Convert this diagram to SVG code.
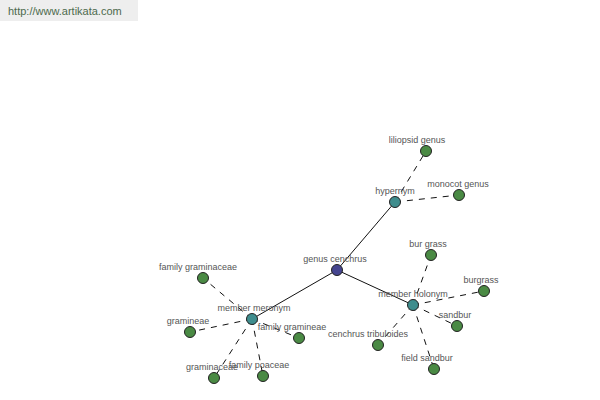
<svg xmlns="http://www.w3.org/2000/svg" width="600" height="400" viewBox="0 0 600 400">
<style>
text{font-family:"Liberation Sans",Arial,sans-serif;font-size:9px;fill:#555;text-anchor:middle}
.n circle{stroke:#222;stroke-width:1}
.leaf circle{fill:#4a8a44}
.hub circle{fill:#3f8d8d}
.root circle{fill:#45458f}
.s{stroke:#111;stroke-width:1;fill:none}
.d{stroke:#111;stroke-width:1;fill:none;stroke-dasharray:6,6}
</style>
<rect x="0" y="0" width="138" height="21" fill="#eeeeee"/>
<text x="8" y="15" style="font-size:11px;fill:#4d6a4d;text-anchor:start">http://www.artikata.com</text>
<g id="connectors">
<line class="s" x1="337" y1="270" x2="395" y2="202"/>
<line class="s" x1="337" y1="270" x2="413" y2="305"/>
<line class="s" x1="337" y1="270" x2="252" y2="319"/>
<line class="d" x1="395" y1="202" x2="426" y2="151"/>
<line class="d" x1="395" y1="202" x2="459" y2="195"/>
<line class="d" x1="413" y1="305" x2="431" y2="255"/>
<line class="d" x1="413" y1="305" x2="484" y2="291"/>
<line class="d" x1="413" y1="305" x2="457" y2="326"/>
<line class="d" x1="413" y1="305" x2="434" y2="369"/>
<line class="d" x1="413" y1="305" x2="378" y2="345"/>
<line class="d" x1="252" y1="319" x2="203" y2="278"/>
<line class="d" x1="252" y1="319" x2="190" y2="332"/>
<line class="d" x1="252" y1="319" x2="299" y2="338"/>
<line class="d" x1="252" y1="319" x2="214" y2="378"/>
<line class="d" x1="252" y1="319" x2="263" y2="376"/>
</g>
<g id="genus-cenchrus" class="n root"><circle cx="337" cy="270" r="5.5"/><text x="335" y="262">genus cenchrus</text></g>
<g id="hypernym" class="n hub"><circle cx="395" cy="202" r="5.5"/><text x="395" y="194">hypernym</text></g>
<g id="liliopsid-genus" class="n leaf"><circle cx="426" cy="151" r="5.5"/><text x="417" y="143">liliopsid genus</text></g>
<g id="monocot-genus" class="n leaf"><circle cx="459" cy="195" r="5.5"/><text x="458" y="187">monocot genus</text></g>
<g id="member-holonym" class="n hub"><circle cx="413" cy="305" r="5.5"/><text x="413" y="297">member holonym</text></g>
<g id="bur-grass" class="n leaf"><circle cx="431" cy="255" r="5.5"/><text x="428" y="247">bur grass</text></g>
<g id="burgrass" class="n leaf"><circle cx="484" cy="291" r="5.5"/><text x="481" y="283">burgrass</text></g>
<g id="sandbur" class="n leaf"><circle cx="457" cy="326" r="5.5"/><text x="455" y="318">sandbur</text></g>
<g id="field-sandbur" class="n leaf"><circle cx="434" cy="369" r="5.5"/><text x="427" y="361">field sandbur</text></g>
<g id="cenchrus-tribuloides" class="n leaf"><circle cx="378" cy="345" r="5.5"/><text x="368" y="337">cenchrus tribuloides</text></g>
<g id="member-meronym" class="n hub"><circle cx="252" cy="319" r="5.5"/><text x="254" y="311">member meronym</text></g>
<g id="family-graminaceae" class="n leaf"><circle cx="203" cy="278" r="5.5"/><text x="198" y="270">family graminaceae</text></g>
<g id="gramineae" class="n leaf"><circle cx="190" cy="332" r="5.5"/><text x="188" y="324">gramineae</text></g>
<g id="family-gramineae" class="n leaf"><circle cx="299" cy="338" r="5.5"/><text x="292" y="330">family gramineae</text></g>
<g id="graminaceae" class="n leaf"><circle cx="214" cy="378" r="5.5"/><text x="212" y="370">graminaceae</text></g>
<g id="family-poaceae" class="n leaf"><circle cx="263" cy="376" r="5.5"/><text x="259" y="368">family poaceae</text></g>
</svg>
